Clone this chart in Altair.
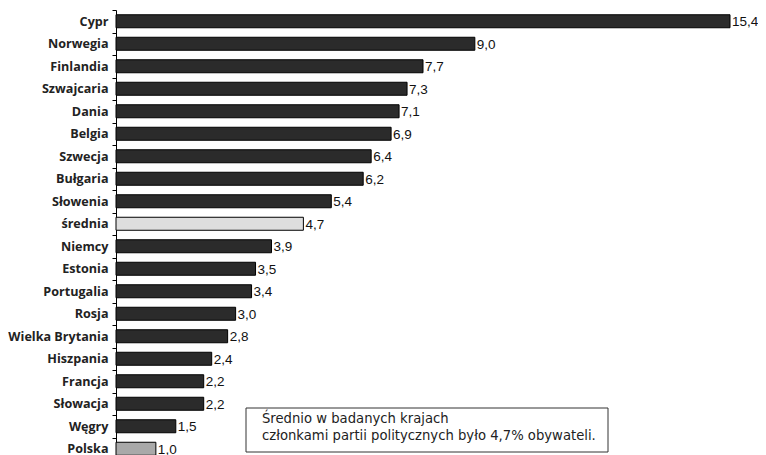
import altair as alt
import pandas as pd

countries = ["Cypr", "Norwegia", "Finlandia", "Szwajcaria", "Dania", "Belgia", "Szwecja",
             "Bułgaria", "Słowenia", "średnia", "Niemcy", "Estonia", "Portugalia", "Rosja",
             "Wielka Brytania", "Hiszpania", "Francja", "Słowacja", "Węgry", "Polska"]
values = [15.4, 9.0, 7.7, 7.3, 7.1, 6.9, 6.4, 6.2, 5.4, 4.7, 3.9, 3.5, 3.4, 3.0, 2.8,
          2.4, 2.2, 2.2, 1.5, 1.0]
kinds = ["kraj"] * 9 + ["średnia"] + ["kraj"] * 9 + ["Polska"]
note_lines = ["Średnio w badanych krajach",
              "członkami partii politycznych było 4,7% obywateli."]

df = pd.DataFrame({
    "kraj": countries,
    "wartosc": values,
    "typ": kinds,
    "etykieta": [f"{v:.1f}".replace(".", ",") for v in values],
})

W = 614
H = 450

y_enc = alt.Y("kraj:N", sort=countries, title=None,
              scale=alt.Scale(paddingInner=0, paddingOuter=0),
              axis=alt.Axis(tickBand="extent", tickSize=4, tickColor="#000",
                            domainColor="#000", labelFont="Open Sans",
                            labelFontWeight="bold", labelFontSize=12.6,
                            labelColor="#222", labelPadding=4, grid=False))
x_enc = alt.X("wartosc:Q", scale=alt.Scale(domain=[0, 15.4], nice=False),
              axis=None)

bars = alt.Chart(df).mark_bar(stroke="#000", strokeWidth=1, size=13).encode(
    x=x_enc, y=y_enc,
    color=alt.Color("typ:N", legend=None,
                    scale=alt.Scale(domain=["kraj", "średnia", "Polska"],
                                    range=["#2b2b2b", "#dedede", "#a9a9a9"])),
)

labels = alt.Chart(df).mark_text(align="left", baseline="middle", dx=2, dy=1,
                                 font="Liberation Sans", fontSize=13.5,
                                 color="#111").encode(
    x=x_enc, y=alt.Y("kraj:N", sort=countries), text="etykieta:N")

box = alt.Chart(pd.DataFrame({"a": [0]})).mark_rect(
    fill="white", stroke="#333", strokeWidth=1).encode(
    x=alt.value(130), x2=alt.value(492), y=alt.value(398), y2=alt.value(442))

note = alt.Chart(pd.DataFrame({"t": [note_lines]})).mark_text(
    align="left", baseline="middle", font="DejaVu Sans", fontSize=13.2,
    color="#222", lineHeight=17).encode(
    x=alt.value(146), y=alt.value(409), text="t")

chart = alt.layer(bars, labels, box, note).properties(
    width=W, height=H,
    padding={"left": 108, "top": 2, "right": 28, "bottom": 0},
    autosize=alt.AutoSizeParams(type="none"),
).configure(background="white").configure_view(stroke=None)

chart.save("out.html", embed_options={"renderer": "svg", "actions": False})
